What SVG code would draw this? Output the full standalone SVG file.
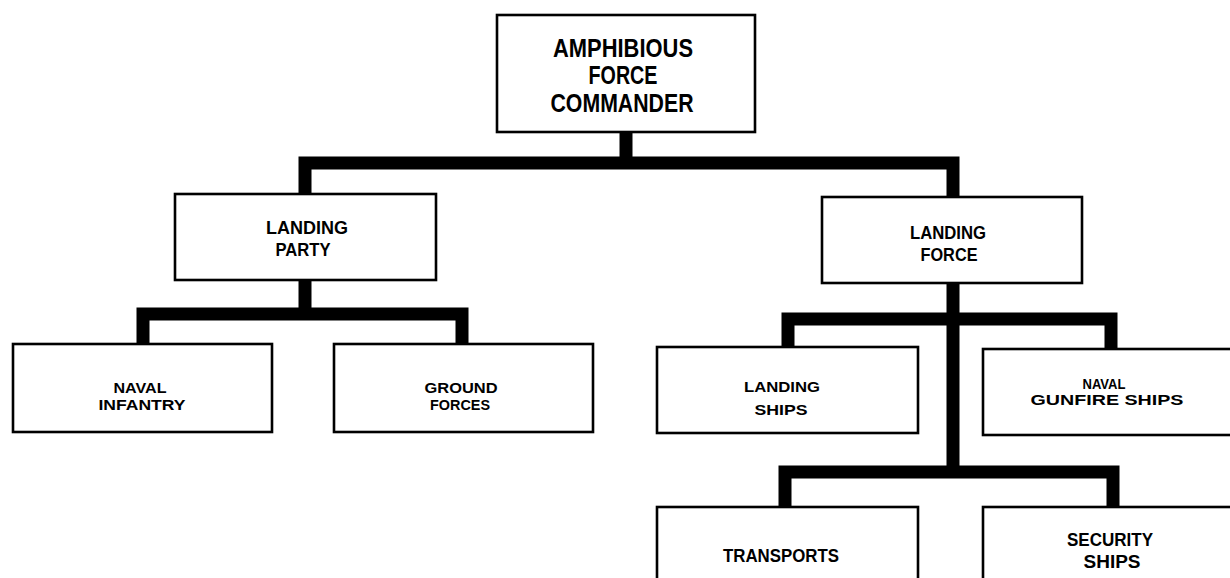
<svg xmlns="http://www.w3.org/2000/svg" width="1230" height="578" viewBox="0 0 1230 578">
  <style>
    .box { fill: #ffffff; stroke: #000000; stroke-width: 2.6; }
    .conn { fill: none; stroke: #000000; stroke-width: 13; stroke-linejoin: miter; stroke-linecap: butt; }
    text { font-family: "Liberation Sans", Arial, sans-serif; font-weight: bold; fill: #000000; text-anchor: middle; }
    .t1 { font-size: 25px; }
    .t2 { font-size: 18px; }
    .t3 { font-size: 15px; }
    .t4 { font-size: 18px; }
  </style>
  <rect width="1230" height="578" fill="#ffffff"/>
  <g id="connectors">
    <path class="conn" d="M626,132 V163"/>
    <path class="conn" d="M305,194 V163 H953 V197"/>
    <path class="conn" d="M305,280 V314"/>
    <path class="conn" d="M143,344 V314 H462 V344"/>
    <path class="conn" d="M953,283 V472"/>
    <path class="conn" d="M788,347 V319 H1111 V349"/>
    <path class="conn" d="M785,507 V472 H1113 V507"/>
  </g>
  <g id="amphibious-force-commander">
    <rect class="box" x="497" y="15" width="258" height="117"/>
    <text class="t1" x="623" y="57" textLength="140" lengthAdjust="spacingAndGlyphs">AMPHIBIOUS</text>
    <text class="t1" x="623" y="84" textLength="69" lengthAdjust="spacingAndGlyphs">FORCE</text>
    <text class="t1" x="622" y="112" textLength="143" lengthAdjust="spacingAndGlyphs">COMMANDER</text>
  </g>
  <g id="landing-party">
    <rect class="box" x="175" y="194" width="261" height="86"/>
    <text class="t2" x="307" y="234" textLength="82" lengthAdjust="spacingAndGlyphs">LANDING</text>
    <text class="t2" x="303" y="256" textLength="55" lengthAdjust="spacingAndGlyphs">PARTY</text>
  </g>
  <g id="landing-force">
    <rect class="box" x="822" y="197" width="260" height="86"/>
    <text class="t2" x="948" y="239" textLength="76" lengthAdjust="spacingAndGlyphs">LANDING</text>
    <text class="t2" x="949" y="261" textLength="57" lengthAdjust="spacingAndGlyphs">FORCE</text>
  </g>
  <g id="naval-infantry">
    <rect class="box" x="13" y="344" width="259" height="88"/>
    <text class="t3" x="140" y="393" textLength="53" lengthAdjust="spacingAndGlyphs">NAVAL</text>
    <text class="t3" x="142" y="410" textLength="87" lengthAdjust="spacingAndGlyphs">INFANTRY</text>
  </g>
  <g id="ground-forces">
    <rect class="box" x="334" y="344" width="259" height="88"/>
    <text class="t3" x="461" y="393" textLength="73" lengthAdjust="spacingAndGlyphs">GROUND</text>
    <text class="t3" x="460" y="410" textLength="60" lengthAdjust="spacingAndGlyphs">FORCES</text>
  </g>
  <g id="landing-ships">
    <rect class="box" x="657" y="347" width="261" height="86"/>
    <text class="t3" x="782" y="392" textLength="76" lengthAdjust="spacingAndGlyphs">LANDING</text>
    <text class="t3" x="781" y="415" textLength="53" lengthAdjust="spacingAndGlyphs">SHIPS</text>
  </g>
  <g id="naval-gunfire-ships">
    <rect class="box" x="983" y="349" width="262" height="86"/>
    <text class="t3" x="1104" y="389" textLength="43" lengthAdjust="spacingAndGlyphs">NAVAL</text>
    <text class="t3" x="1107" y="405" textLength="153" lengthAdjust="spacingAndGlyphs">GUNFIRE SHIPS</text>
  </g>
  <g id="transports">
    <rect class="box" x="657" y="507" width="261" height="90"/>
    <text class="t4" x="781" y="562" textLength="116" lengthAdjust="spacingAndGlyphs">TRANSPORTS</text>
  </g>
  <g id="security-ships">
    <rect class="box" x="983" y="507" width="262" height="90"/>
    <text class="t4" x="1110" y="546" textLength="86" lengthAdjust="spacingAndGlyphs">SECURITY</text>
    <text class="t4" x="1112" y="568" textLength="57" lengthAdjust="spacingAndGlyphs">SHIPS</text>
  </g>
</svg>
